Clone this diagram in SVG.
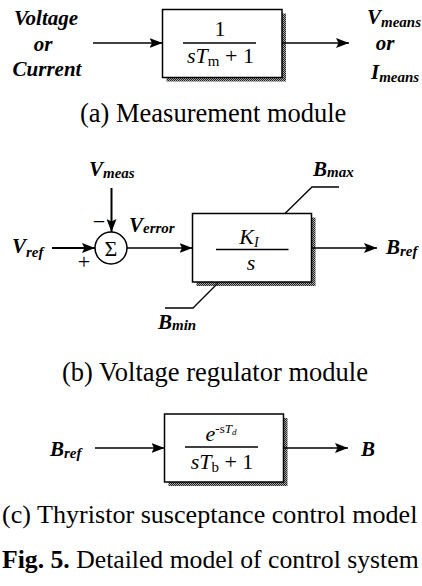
<svg xmlns="http://www.w3.org/2000/svg" width="422" height="586" viewBox="0 0 422 586" font-family="Liberation Serif, DejaVu Serif, serif">
<defs>
<style>
text{font-family:'Liberation Serif','DejaVu Serif',serif}
.lbl{font-weight:bold;font-style:italic;font-size:21px;fill:#000}
.sub{font-size:15px}
.math{font-size:22px;fill:#000}
.it{font-style:italic}
.cap{font-size:26.5px;fill:#000}
.cap2{font-size:26.1px;fill:#000}
.cap3{font-size:25.7px;fill:#000}
.box{fill:#fff;stroke:#000;stroke-width:1.5}
.shadow{fill:url(#hatch)}
.wire{stroke:#000;stroke-width:1.3;fill:none}
.thick{stroke-width:2}
.frac{stroke:#000;stroke-width:1.3}
</style>
<pattern id="hatch" width="2" height="2" patternUnits="userSpaceOnUse">
<rect width="2" height="2" fill="#aaa"/>
<rect width="1" height="1" fill="#222"/>
<rect x="1" y="1" width="1" height="1" fill="#222"/>
</pattern>
<marker id="arr" viewBox="0 0 13 10" refX="13" refY="5" markerWidth="13" markerHeight="10" markerUnits="userSpaceOnUse" orient="auto">
<path d="M0,0 L13,5 L0,10 L2.5,5 z" fill="#000"/>
</marker>
</defs>
<rect width="422" height="586" fill="#fff"/>

<!-- (a) Measurement module -->
<g id="input-a">
<text class="lbl" x="46" y="25" text-anchor="middle">Voltage</text>
<text class="lbl" x="43" y="51" text-anchor="middle">or</text>
<text class="lbl" x="47" y="76" text-anchor="middle">Current</text>
</g>
<g id="measure-box">
<rect class="shadow" x="166.5" y="13.5" width="119.5" height="68"/>
<rect class="box" x="162.5" y="9.5" width="119.5" height="68"/>
<text class="math" x="220" y="36" text-anchor="middle">1</text>
<line class="frac" x1="183" y1="43" x2="256" y2="43"/>
<text class="math" x="220.5" y="63" text-anchor="middle"><tspan class="it">sT</tspan><tspan font-size="15" dy="3">m</tspan><tspan dy="-3"> + 1</tspan></text>
</g>
<g id="output-a">
<text class="lbl" x="367" y="24">V<tspan class="sub" dy="3">means</tspan></text>
<text class="lbl" x="385" y="50" text-anchor="middle">or</text>
<text class="lbl" x="371" y="79">I<tspan class="sub" dy="3">means</tspan></text>
</g>
<text class="cap" x="80" y="122">(a) Measurement module</text>

<!-- (b) Voltage regulator module -->
<g id="vmeas-label"><text class="lbl" x="89" y="176">V<tspan class="sub" dy="2">meas</tspan></text></g>
<g id="vref-label"><text class="lbl" x="12" y="253">V<tspan class="sub" dy="4">ref</tspan></text></g>
<g id="sum">
<circle cx="111" cy="248" r="16" fill="#fff" stroke="#000" stroke-width="1.5"/>
<text class="math" x="111" y="255.5" text-anchor="middle">Σ</text>
<text class="math" x="99" y="229" text-anchor="middle" font-size="20">−</text>
<text class="math" x="84" y="269" text-anchor="middle">+</text>
</g>
<g id="verror-label"><text class="lbl" x="129" y="232">V<tspan class="sub" dy="1">error</tspan></text></g>
<g id="integrator-box">
<rect class="shadow" x="196.5" y="217.5" width="119" height="68.5"/>
<rect class="box" x="192.5" y="213.5" width="119" height="68.5"/>
<text class="math it" x="249" y="243.5" text-anchor="middle">K<tspan font-size="14" dy="3">I</tspan></text>
<line class="frac" x1="216" y1="249.5" x2="288.5" y2="249.5"/>
<text class="math it" x="251" y="270" text-anchor="middle">s</text>
</g>
<g id="bmax-label"><text class="lbl" x="313" y="176">B<tspan class="sub" dy="1">max</tspan></text></g>
<g id="bmin-label"><text class="lbl" x="158" y="329">B<tspan class="sub" dy="1">min</tspan></text></g>
<g id="bref-b-label"><text class="lbl" x="386" y="254">B<tspan class="sub" dy="2">ref</tspan></text></g>
<text class="cap" x="62" y="381">(b) Voltage regulator module</text>

<!-- (c) Thyristor susceptance control model -->
<g id="bref-c-label"><text class="lbl" x="50" y="456">B<tspan class="sub" dy="2">ref</tspan></text></g>
<g id="delay-box">
<rect class="shadow" x="168.5" y="418" width="119" height="68"/>
<rect class="box" x="164.5" y="414" width="119" height="68"/>
<text class="math" x="221" y="441" text-anchor="middle"><tspan class="it">e</tspan><tspan font-size="13" dy="-8">-s</tspan><tspan font-size="13" class="it">T</tspan><tspan font-size="9" class="it" dy="2">d</tspan></text>
<line class="frac" x1="185" y1="447" x2="258" y2="447"/>
<text class="math" x="222" y="469" text-anchor="middle"><tspan class="it">sT</tspan><tspan font-size="15" dy="3">b</tspan><tspan dy="-3"> + 1</tspan></text>
</g>
<g id="b-label"><text class="lbl" x="361" y="456">B</text></g>
<text class="cap2" x="2" y="523">(c) Thyristor susceptance control model</text>
<text class="cap3" x="2" y="568"><tspan font-weight="bold">Fig. 5.</tspan> Detailed model of control system</text>

<g id="connectors">
<path class="wire" d="M93,43 H162.5" marker-end="url(#arr)"/>
<path class="wire" d="M282,43 H349" marker-end="url(#arr)"/>
<path class="wire thick" d="M52,248 H95" marker-end="url(#arr)"/>
<path class="wire thick" d="M111.5,188 V232" marker-end="url(#arr)"/>
<path class="wire" d="M127,248 H192.5" marker-end="url(#arr)"/>
<path class="wire" d="M311.5,248 H377" marker-end="url(#arr)"/>
<path class="wire" d="M339,187 H312 L285,213.5"/>
<path class="wire" d="M165,308 H193 L218,283"/>
<path class="wire" d="M95,448 H164.5" marker-end="url(#arr)"/>
<path class="wire" d="M283.5,448 H348" marker-end="url(#arr)"/>
</g>
</svg>
